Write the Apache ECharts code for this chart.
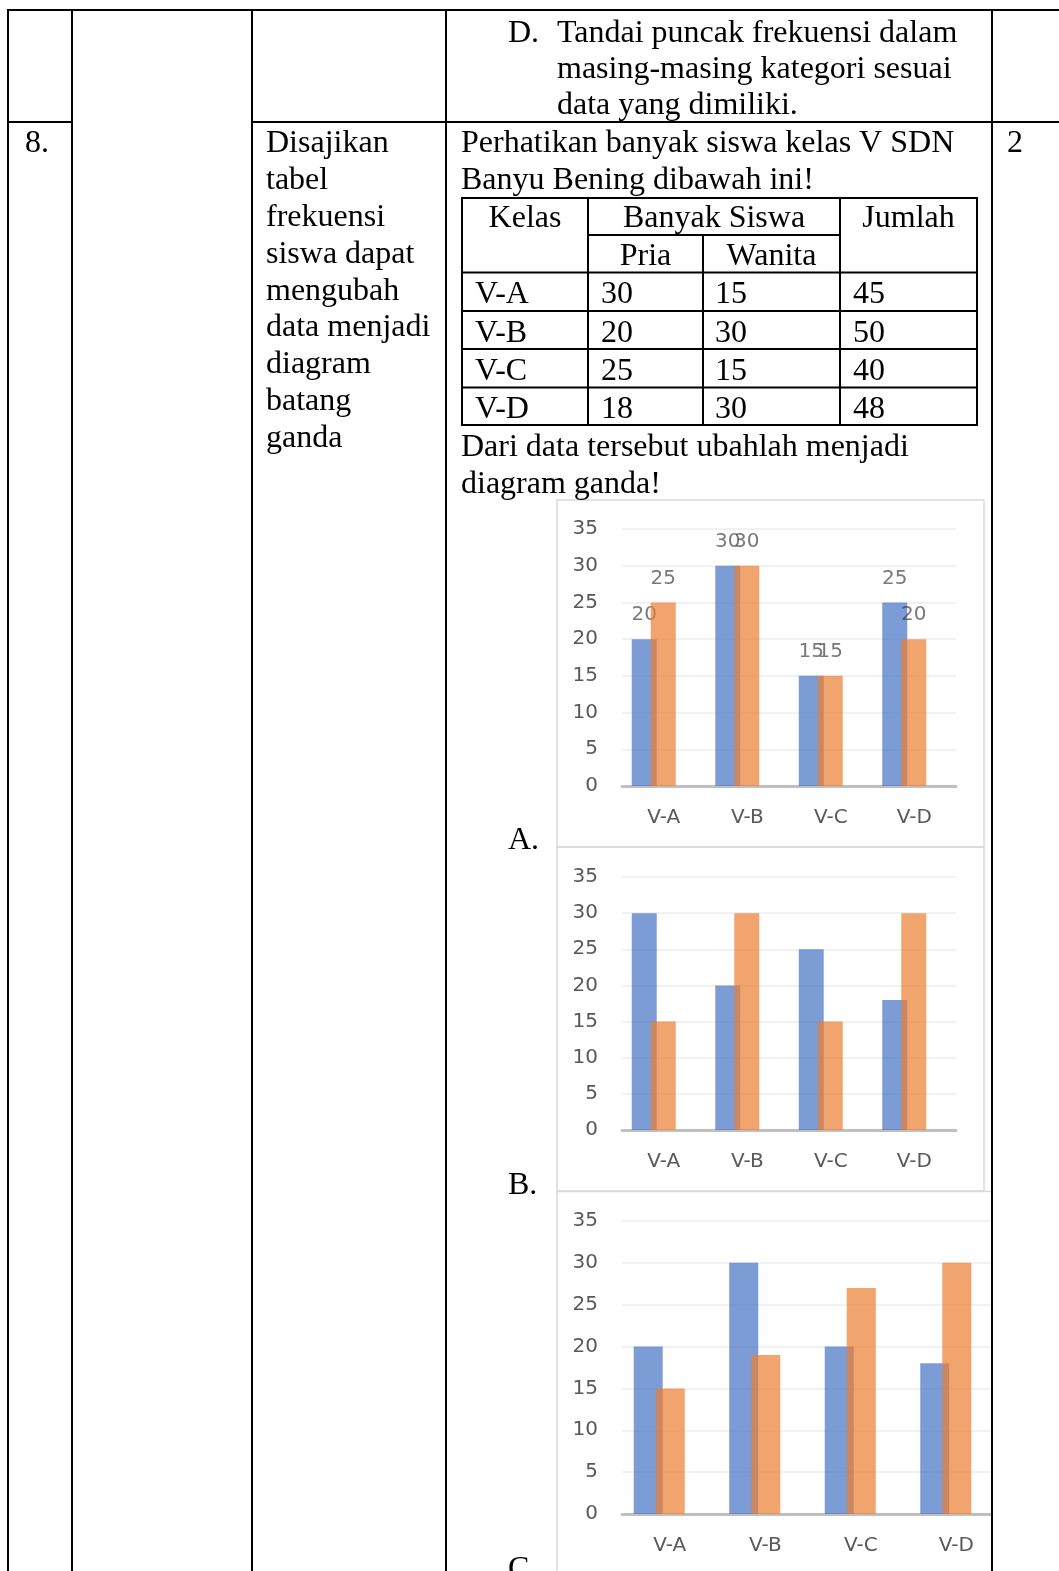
<!DOCTYPE html>
<html>
<head>
<meta charset="utf-8">
<script src="https://cdn.jsdelivr.net/npm/echarts@6/dist/echarts.min.js"></script>
<style>
html,body{margin:0;padding:0;background:#fff;}
#c{width:1059px;height:1571px;}
</style>
</head>
<body>
<div id="c"></div>
<script>
// ---- data ----
const categories = ['V-A', 'V-B', 'V-C', 'V-D'];
const tablePria = [30, 20, 25, 18];
const tableWanita = [15, 30, 15, 30];
const tableJumlah = [45, 50, 40, 48];

const chartA_pria = [20, 30, 15, 25];
const chartA_wanita = [25, 30, 15, 20];
const chartB_pria = [30, 20, 25, 18];
const chartB_wanita = [15, 30, 15, 30];
const chartC_pria = [20, 30, 20, 18];
const chartC_wanita = [15, 19, 27, 30];

const yTicks = [0, 5, 10, 15, 20, 25, 30, 35];

const topLines = ['Tandai puncak frekuensi dalam', 'masing-masing kategori sesuai', 'data yang dimiliki.'];
const indicatorLines = ['Disajikan', 'tabel', 'frekuensi', 'siswa dapat', 'mengubah', 'data menjadi', 'diagram', 'batang', 'ganda'];
const introLines = ['Perhatikan banyak siswa kelas V SDN', 'Banyu Bening dibawah ini!'];
const outroLines = ['Dari data tersebut ubahlah menjadi', 'diagram ganda!'];
const tableHead = ['Kelas', 'Banyak Siswa', 'Jumlah', 'Pria', 'Wanita'];
const optionLetters = ['A.', 'B.', 'C.'];

// ---- drawing ----
const chart = echarts.init(document.getElementById('c'), null, {renderer: 'canvas'});
const SERIF = '32px "Liberation Serif", "Times New Roman", serif';
const SANS = '"DejaVu Sans", "Open Sans", sans-serif';
const g = [];
function txt(s, x, y, align) {
  g.push({type: 'text', x: x, y: y, z: 70,
    style: {text: s, font: SERIF, fill: '#000', textAlign: align || 'left', textVerticalAlign: 'middle', align: align || 'left', verticalAlign: 'middle'}});
}
function line(x1, y1, x2, y2, w, c, z) {
  g.push({type: 'line', z: z || 60, shape: {x1: x1, y1: y1, x2: x2, y2: y2},
    style: {stroke: c || '#000', lineWidth: w || 2}});
}
function rect(x, y, w, h, stroke, fill, z) {
  g.push({type: 'rect', z: z || 1, shape: {x: x, y: y, width: w, height: h},
    style: {stroke: stroke || null, fill: fill || 'none', lineWidth: 1.5}});
}

// chart frames
rect(557, 500, 427, 347, '#d9d9d9', 'none', 1);
rect(557, 847, 427, 344, '#d9d9d9', 'none', 1);
rect(557, 1191.5, 470, 420, '#d9d9d9', 'none', 1);
// clip of chart C at the cell border
rect(993, 1185, 80, 400, null, '#ffffff', 50);

// outer table
const colX = [8, 72, 252, 446, 992];
line(8, 10, 1059, 10);
line(8, 122, 72, 122);
line(252, 122, 1059, 122);
colX.forEach(x => line(x, 9, x, 1571));

// inner table
const tL = 462, c1 = 588, c2 = 703, c3 = 840, tR = 977;
const rowY = [198, 272.5, 311, 349, 387.5, 425];
line(tL, 198, tR, 198);
line(c1, 235, c3, 235);
rowY.slice(1).forEach(y => line(tL, y, tR, y));
[tL, c1, c3, tR].forEach(x => line(x, 197, x, 426));
line(c2, 235, c2, 426);

// texts
const dy = 3;
txt('D.', 508, 31 + dy);
topLines.forEach((s, i) => txt(s, 557, 31 + dy + 36 * i));
txt('8.', 25, 141 + dy);
indicatorLines.forEach((s, i) => txt(s, 266, 141 + dy + 36.8 * i));
txt('2', 1007, 141 + dy);
introLines.forEach((s, i) => txt(s, 461, 141 + dy + 37 * i));
outroLines.forEach((s, i) => txt(s, 461, 445 + dy + 37 * i));
txt(tableHead[0], (tL + c1) / 2, 216 + dy, 'center');
txt(tableHead[1], (c1 + c3) / 2, 216 + dy, 'center');
txt(tableHead[2], (c3 + tR) / 2, 216 + dy, 'center');
txt(tableHead[3], (c1 + c2) / 2, 254 + dy, 'center');
txt(tableHead[4], (c2 + c3) / 2, 254 + dy, 'center');
const rowMid = [292, 330.5, 369, 407];
categories.forEach((k, i) => {
  txt(k, tL + 13, rowMid[i] + dy);
  txt(String(tablePria[i]), c1 + 13, rowMid[i] + dy);
  txt(String(tableWanita[i]), c2 + 12, rowMid[i] + dy);
  txt(String(tableJumlah[i]), c3 + 13, rowMid[i] + dy);
});
txt(optionLetters[0], 508, 841);
txt(optionLetters[1], 508, 1186);
txt(optionLetters[2], 508, 1570);

// charts
const charts = [
  {top: 529, height: 257, left: 622, width: 334, shift: 10, bw: 25, pria: chartA_pria, wanita: chartA_wanita, labels: true},
  {top: 877, height: 253, left: 622, width: 334, shift: 10, bw: 25, pria: chartB_pria, wanita: chartB_wanita, labels: false},
  {top: 1221, height: 293, left: 622, width: 382, shift: 10.5, bw: 29, pria: chartC_pria, wanita: chartC_wanita, labels: false}
];
const grid = [], xAxis = [], yAxis = [], series = [];
charts.forEach((c, i) => {
  grid.push({left: c.left, top: c.top, width: c.width, height: c.height, containLabel: false});
  grid.push({left: c.left - c.shift, top: c.top, width: c.width, height: c.height, containLabel: false});
  xAxis.push({type: 'category', gridIndex: 2 * i, data: categories, boundaryGap: true,
    axisTick: {show: false},
    axisLine: {show: true, lineStyle: {color: '#bfbfbf', width: 3}},
    axisLabel: {color: '#595959', fontSize: 20, fontFamily: SANS, margin: 22},
    splitLine: {show: false}});
  xAxis.push({type: 'category', gridIndex: 2 * i + 1, data: categories, show: false});
  yAxis.push({type: 'value', gridIndex: 2 * i, min: yTicks[0], max: yTicks[yTicks.length - 1], interval: yTicks[1] - yTicks[0],
    axisLine: {show: false}, axisTick: {show: false},
    axisLabel: {color: '#595959', fontSize: 20, fontFamily: SANS, margin: 24},
    splitLine: {show: true, lineStyle: {color: '#ededed', width: 1.5}}});
  yAxis.push({type: 'value', gridIndex: 2 * i + 1, min: yTicks[0], max: yTicks[yTicks.length - 1], interval: yTicks[1] - yTicks[0], show: false});
  const lab = {show: c.labels, position: 'top', distance: 14, color: '#404040', fontSize: 20, fontFamily: SANS};
  series.push({type: 'bar', name: 'Pria', xAxisIndex: 2 * i + 1, yAxisIndex: 2 * i + 1, data: c.pria,
    barWidth: c.bw, barGap: '-24%', itemStyle: {color: '#4472C4', opacity: 0.7}, label: lab, z: 3});
  series.push({type: 'bar', name: 'Wanita', xAxisIndex: 2 * i + 1, yAxisIndex: 2 * i + 1, data: c.wanita,
    barWidth: c.bw, barGap: '-24%', itemStyle: {color: '#ED7D31', opacity: 0.7}, label: lab, z: 4});
});

chart.setOption({
  backgroundColor: '#ffffff',
  animation: false,
  grid: grid, xAxis: xAxis, yAxis: yAxis, series: series,
  graphic: {elements: g}
});
</script>
</body>
</html>
